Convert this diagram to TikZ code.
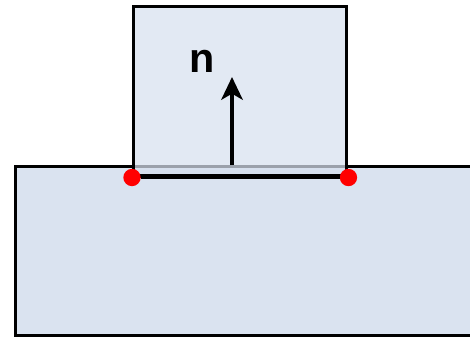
\documentclass[tikz,border=0pt]{standalone}
\usepackage{fontspec}
\setmainfont{Liberation Sans}
\usepackage{tikz}
\usetikzlibrary{arrows.meta, positioning}
\definecolor{slabfill}{HTML}{DAE3F0}
\definecolor{blockfill}{HTML}{D7E0EE}
\definecolor{dotred}{HTML}{FF0000}

\begin{document}
\begin{tikzpicture}[
  x=0.75pt, y=-0.75pt,
  >=Stealth,
  slab/.style={draw=black, line width=2.6pt, fill=slabfill, rectangle, inner sep=0pt,
    minimum width=360pt, minimum height=126.4pt, anchor=north west},
  blockbox/.style={draw=black, line width=2.6pt, fill=blockfill, fill opacity=0.72,
    draw opacity=1, rectangle, inner sep=0pt,
    minimum width=159.75pt, minimum height=127pt, anchor=north west},
  corner/.style={circle, fill=dotred, inner sep=0pt, minimum size=13pt},
  normal/.style={->, line width=3.2pt, >={Stealth[length=17pt, width=16pt, inset=4.5pt]}},
]
\useasboundingbox (0,0) rectangle (470,337);

\node[slab] (slab) at (14,165) {};
\node[blockbox] (block) at (132,4.7) {};

% interface line and its end points
\node[corner] (left) at (block.south west) {};
\node[corner] (right) at (block.south east) {};
\draw[line width=2.6pt] (left) -- (right);

% normal vector
\coordinate (foot) at (232,165);
\coordinate (tip) at (232,77);
\draw[normal] (foot) -- (tip);
\node[anchor=base, font=\fontsize{31}{33}\selectfont\bfseries] (nlabel) at (202,72) {n};

\end{tikzpicture}
\end{document}
